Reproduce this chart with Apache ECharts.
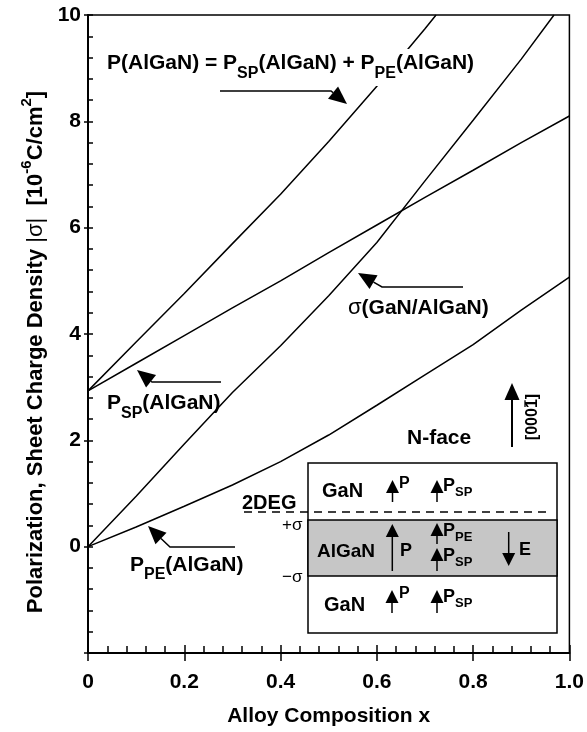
<!DOCTYPE html>
<html>
<head>
<meta charset="utf-8">
<script src="https://cdn.jsdelivr.net/npm/echarts@6/dist/echarts.min.js"></script>
<style>
  html, body { margin: 0; padding: 0; background: #fff; }
  #chart { width: 587px; height: 732px; }
</style>
</head>
<body>
<div id="chart"></div>
<script>
const FONT = '"Liberation Sans", Arial, Helvetica, sans-serif';

// Al mole fraction grid for the two polarization components
const alloyX = [0, 0.1, 0.2, 0.3, 0.4, 0.5, 0.6, 0.7, 0.8, 0.9, 1.0];
const pSpontaneous = [2.93, 3.45, 3.97, 4.49, 5.0, 5.53, 6.05, 6.57, 7.08, 7.6, 8.1];
const pPiezo = [0, 0.37, 0.76, 1.16, 1.6, 2.1, 2.66, 3.23, 3.8, 4.45, 5.07];
// total polarization leaves the top of the axis near x = 0.72
const pTotalX = [0, 0.1, 0.2, 0.3, 0.4, 0.5, 0.6, 0.7, 0.723];
const pTotal = [2.93, 3.85, 4.76, 5.7, 6.63, 7.62, 8.66, 9.74, 10];
// bound sheet charge at the GaN/AlGaN interface
const sigmaX = [0, 0.1, 0.2, 0.3, 0.4, 0.5, 0.6, 0.7, 0.8, 0.9, 0.968];
const sigma = [0, 0.95, 1.93, 2.9, 3.78, 4.72, 5.72, 6.88, 8.02, 9.17, 10];

const xTicks = [0, 0.2, 0.4, 0.6, 0.8, 1.0];
const xTickLabels = ['0', '0.2', '0.4', '0.6', '0.8', '1.0'];
const yTicks = [-2, 0, 2, 4, 6, 8, 10];
const yTickLabels = ['', '0', '2', '4', '6', '8', '10'];

function pairs(xs, ys) { return xs.map((x, i) => [x, ys[i]]); }
function tickLabel(ticks, labels) {
  return v => {
    const i = ticks.findIndex(t => Math.abs(t - v) < 1e-6);
    return i < 0 ? '' : labels[i];
  };
}

// ---- text helpers (sub/superscripts built from separate runs) ----
const measureCtx = document.createElement('canvas').getContext('2d');
function textWidth(t, size, weight) {
  measureCtx.font = weight + ' ' + size + 'px ' + FONT;
  return measureCtx.measureText(t).width;
}
function textRun(x, y, parts) {
  const els = [];
  let cx = x;
  parts.forEach(p => {
    const t = p[0], size = p[1], dy = p[2] || 0, weight = p[3] || 'bold';
    els.push({
      type: 'text', x: cx, y: y + dy, z: 100,
      style: {
        text: t, font: weight + ' ' + size + 'px ' + FONT, fill: '#000',
        textAlign: 'left', textVerticalAlign: 'middle', align: 'left', verticalAlign: 'middle'
      }
    });
    cx += textWidth(t, size, weight);
  });
  return { els, width: cx - x };
}

// ---- arrow helpers ----
function line(x1, y1, x2, y2, w, dash) {
  return {
    type: 'line', z: 100,
    shape: { x1, y1, x2, y2 },
    style: { stroke: '#000', lineWidth: w || 1.3, lineDash: dash || null }
  };
}
function head(tip, from, len, wid) {
  const dx = tip[0] - from[0], dy = tip[1] - from[1];
  const d = Math.hypot(dx, dy), ux = dx / d, uy = dy / d;
  const bx = tip[0] - ux * len, by = tip[1] - uy * len;
  return {
    base: [bx, by],
    el: {
      type: 'polygon', z: 100,
      shape: { points: [tip, [bx - uy * wid / 2, by + ux * wid / 2], [bx + uy * wid / 2, by - ux * wid / 2]] },
      style: { fill: '#000' }
    }
  };
}
// pointer: path of points ending at the arrow tip
function pointer(pts, len, wid, w) {
  const tip = pts[pts.length - 1], prev = pts[pts.length - 2];
  const h = head(tip, prev, len, wid);
  const path = pts.slice(0, -1).concat([h.base]);
  return [
    { type: 'polyline', z: 100, shape: { points: path }, style: { stroke: '#000', lineWidth: w || 1.5, fill: null } },
    h.el
  ];
}
function vArrow(x, tail, tip, len, wid, w) {
  return pointer([[x, tail], [x, tip]], len, wid, w);
}

const G = [];

// y-axis title, rotated
(function () {
  const run = textRun(0, 0, [
    ['Polarization, Sheet Charge Density ', 22],
    ['|σ|', 22, 0, 'normal'],
    ['  [10', 22],
    ['-6', 15, -9],
    ['C/cm', 22],
    ['2', 15, -9],
    [']', 22]
  ]);
  run.els.forEach(e => { e.x -= run.width / 2; });
  G.push({ type: 'group', x: 36, y: 352, rotation: Math.PI / 2, children: run.els });
})();

// total polarization formula on a white backing
G.push({ type: 'rect', z: 40, shape: { x: 103, y: 49, width: 380, height: 37 }, style: { fill: '#fff' } });
G.push(...textRun(107, 63.5, [
  ['P(AlGaN) = P', 21], ['SP', 16, 10], ['(AlGaN) + P', 21], ['PE', 16, 10], ['(AlGaN)', 21]
]).els);
G.push(...pointer([[220, 91], [331, 91], [347, 104]], 18, 16, 1.5));

// P_SP label
G.push(...textRun(107, 403.5, [['P', 21], ['SP', 16, 10], ['(AlGaN)', 21]]).els);
G.push(...pointer([[221, 382], [152, 382], [137, 370]], 18, 16, 1.5));

// sigma label
G.push(...textRun(348, 308, [['σ', 22, 0, 'normal'], ['(GaN/AlGaN)', 21]]).els);
G.push(...pointer([[463, 287], [382, 287], [358, 273]], 18, 16, 1.5));

// P_PE label
G.push(...textRun(130, 565, [['P', 21], ['PE', 16, 10], ['(AlGaN)', 21]]).els);
G.push(...pointer([[235, 547], [170, 547], [148, 526]], 18, 16, 1.5));

// growth direction
G.push(...textRun(407, 438, [['N-face', 21]]).els);
G.push(...vArrow(512, 447, 383, 17, 15, 2));
(function () {
  const s = 16;
  const run = textRun(0, 0, [['[0001]', s]]);
  const x0 = textWidth('[000', s, 'bold') - run.width / 2;
  const w1 = textWidth('1', s, 'bold');
  run.els.forEach(e => { e.x -= run.width / 2; });
  run.els.push(line(x0 + 1, -8, x0 + w1 - 1, -8, 1.3));
  G.push({ type: 'group', x: 533, y: 417, rotation: Math.PI / 2, children: run.els });
})();

// heterostructure sketch
G.push({ type: 'rect', z: 50, shape: { x: 308, y: 463, width: 249, height: 170 }, style: { fill: '#fff', stroke: '#000', lineWidth: 1.5 } });
G.push({ type: 'rect', z: 51, shape: { x: 308, y: 520, width: 249, height: 56 }, style: { fill: '#c6c6c6', stroke: '#000', lineWidth: 1.5 } });
G.push(line(244, 512, 546, 512, 1.6, [8, 6]));
G.push(...textRun(242, 503, [['2DEG', 20]]).els);
G.push(...textRun(282, 525, [['+σ', 17, 0, 'normal']]).els);
G.push(...textRun(282, 577, [['−σ', 17, 0, 'normal']]).els);

// top GaN
G.push(...textRun(322, 491, [['GaN', 20]]).els);
G.push(...vArrow(392.5, 502, 480, 13, 13, 1.5));
G.push(...textRun(399, 484, [['P', 16]]).els);
G.push(...vArrow(437, 502, 480, 13, 13, 1.5));
G.push(...textRun(443, 486, [['P', 18], ['SP', 13, 6]]).els);

// AlGaN barrier
G.push(...textRun(317, 552, [['AlGaN', 19]]).els);
G.push(...vArrow(392.3, 571, 524, 13, 13, 1.5));
G.push(...textRun(400, 551, [['P', 18]]).els);
G.push(...vArrow(437, 544, 523, 13, 13, 1.5));
G.push(...textRun(443, 531, [['P', 18], ['PE', 13, 6]]).els);
G.push(...vArrow(437, 571, 548, 13, 13, 1.5));
G.push(...textRun(443, 556, [['P', 18], ['SP', 13, 6]]).els);
G.push(...vArrow(508.7, 532, 566, 13, 13, 1.5));
G.push(...textRun(519, 550, [['E', 18]]).els);

// bottom GaN
G.push(...textRun(324, 605, [['GaN', 20]]).els);
G.push(...vArrow(392, 613, 590, 13, 13, 1.5));
G.push(...textRun(399, 594, [['P', 16]]).els);
G.push(...vArrow(437, 613, 590, 13, 13, 1.5));
G.push(...textRun(443, 597, [['P', 18], ['SP', 13, 6]]).els);

const curve = { type: 'line', symbol: 'none', smooth: false, clip: true, z: 3, lineStyle: { color: '#000', width: 1.5 } };
const black = '#000';

const option = {
  animation: false,
  backgroundColor: '#fff',
  grid: { left: 88, right: 15, top: 15, bottom: 78, show: true, borderColor: black, borderWidth: 1.5, backgroundColor: 'transparent' },
  xAxis: [
    {
      type: 'value', min: 0, max: 1, interval: 0.2, position: 'bottom',
      axisLine: { onZero: false, lineStyle: { color: black, width: 2 } },
      axisTick: { inside: true, length: 8, lineStyle: { color: black, width: 1.5 } },
      minorTick: { show: true, splitNumber: 5, length: 7, lineStyle: { color: black, width: 1.5 } },
      splitLine: { show: false },
      axisLabel: { formatter: tickLabel(xTicks, xTickLabels), color: black, fontSize: 21, fontWeight: 'bold', fontFamily: FONT, margin: 19 },
      name: 'Alloy Composition x', nameLocation: 'middle', nameGap: 53,
      nameTextStyle: { color: black, fontSize: 21, fontWeight: 'bold', fontFamily: FONT }
    },
    {
      type: 'value', min: 0, max: 1, interval: 0.2, position: 'bottom',
      axisLine: { show: false, onZero: false },
      axisTick: { inside: false, length: 8, lineStyle: { color: black, width: 1.5 } },
      axisLabel: { show: false }, splitLine: { show: false }
    }
  ],
  yAxis: [
    {
      type: 'value', min: -2, max: 10, interval: 2, position: 'left',
      axisLine: { onZero: false, lineStyle: { color: black, width: 2 } },
      axisTick: { inside: true, length: 5, lineStyle: { color: black, width: 1.5 } },
      minorTick: { show: true, splitNumber: 5, length: 5, lineStyle: { color: black, width: 1.5 } },
      splitLine: { show: false },
      axisLabel: { formatter: tickLabel(yTicks, yTickLabels), color: black, fontSize: 21, fontWeight: 'bold', fontFamily: FONT, margin: 7 }
    },
    {
      type: 'value', min: -2, max: 10, interval: 2, position: 'left',
      axisLine: { show: false, onZero: false },
      axisTick: { inside: false, length: 4, lineStyle: { color: black, width: 1.5 } },
      axisLabel: { show: false }, splitLine: { show: false }
    }
  ],
  series: [
    Object.assign({ name: 'P_SP', data: pairs(alloyX, pSpontaneous) }, curve),
    Object.assign({ name: 'P_PE', data: pairs(alloyX, pPiezo) }, curve),
    Object.assign({ name: 'P', data: pairs(pTotalX, pTotal) }, curve),
    Object.assign({ name: 'sigma', data: pairs(sigmaX, sigma) }, curve)
  ],
  graphic: { elements: G }
};

const chart = echarts.init(document.getElementById('chart'), null, { renderer: 'canvas' });
chart.setOption(option);
</script>
</body>
</html>
